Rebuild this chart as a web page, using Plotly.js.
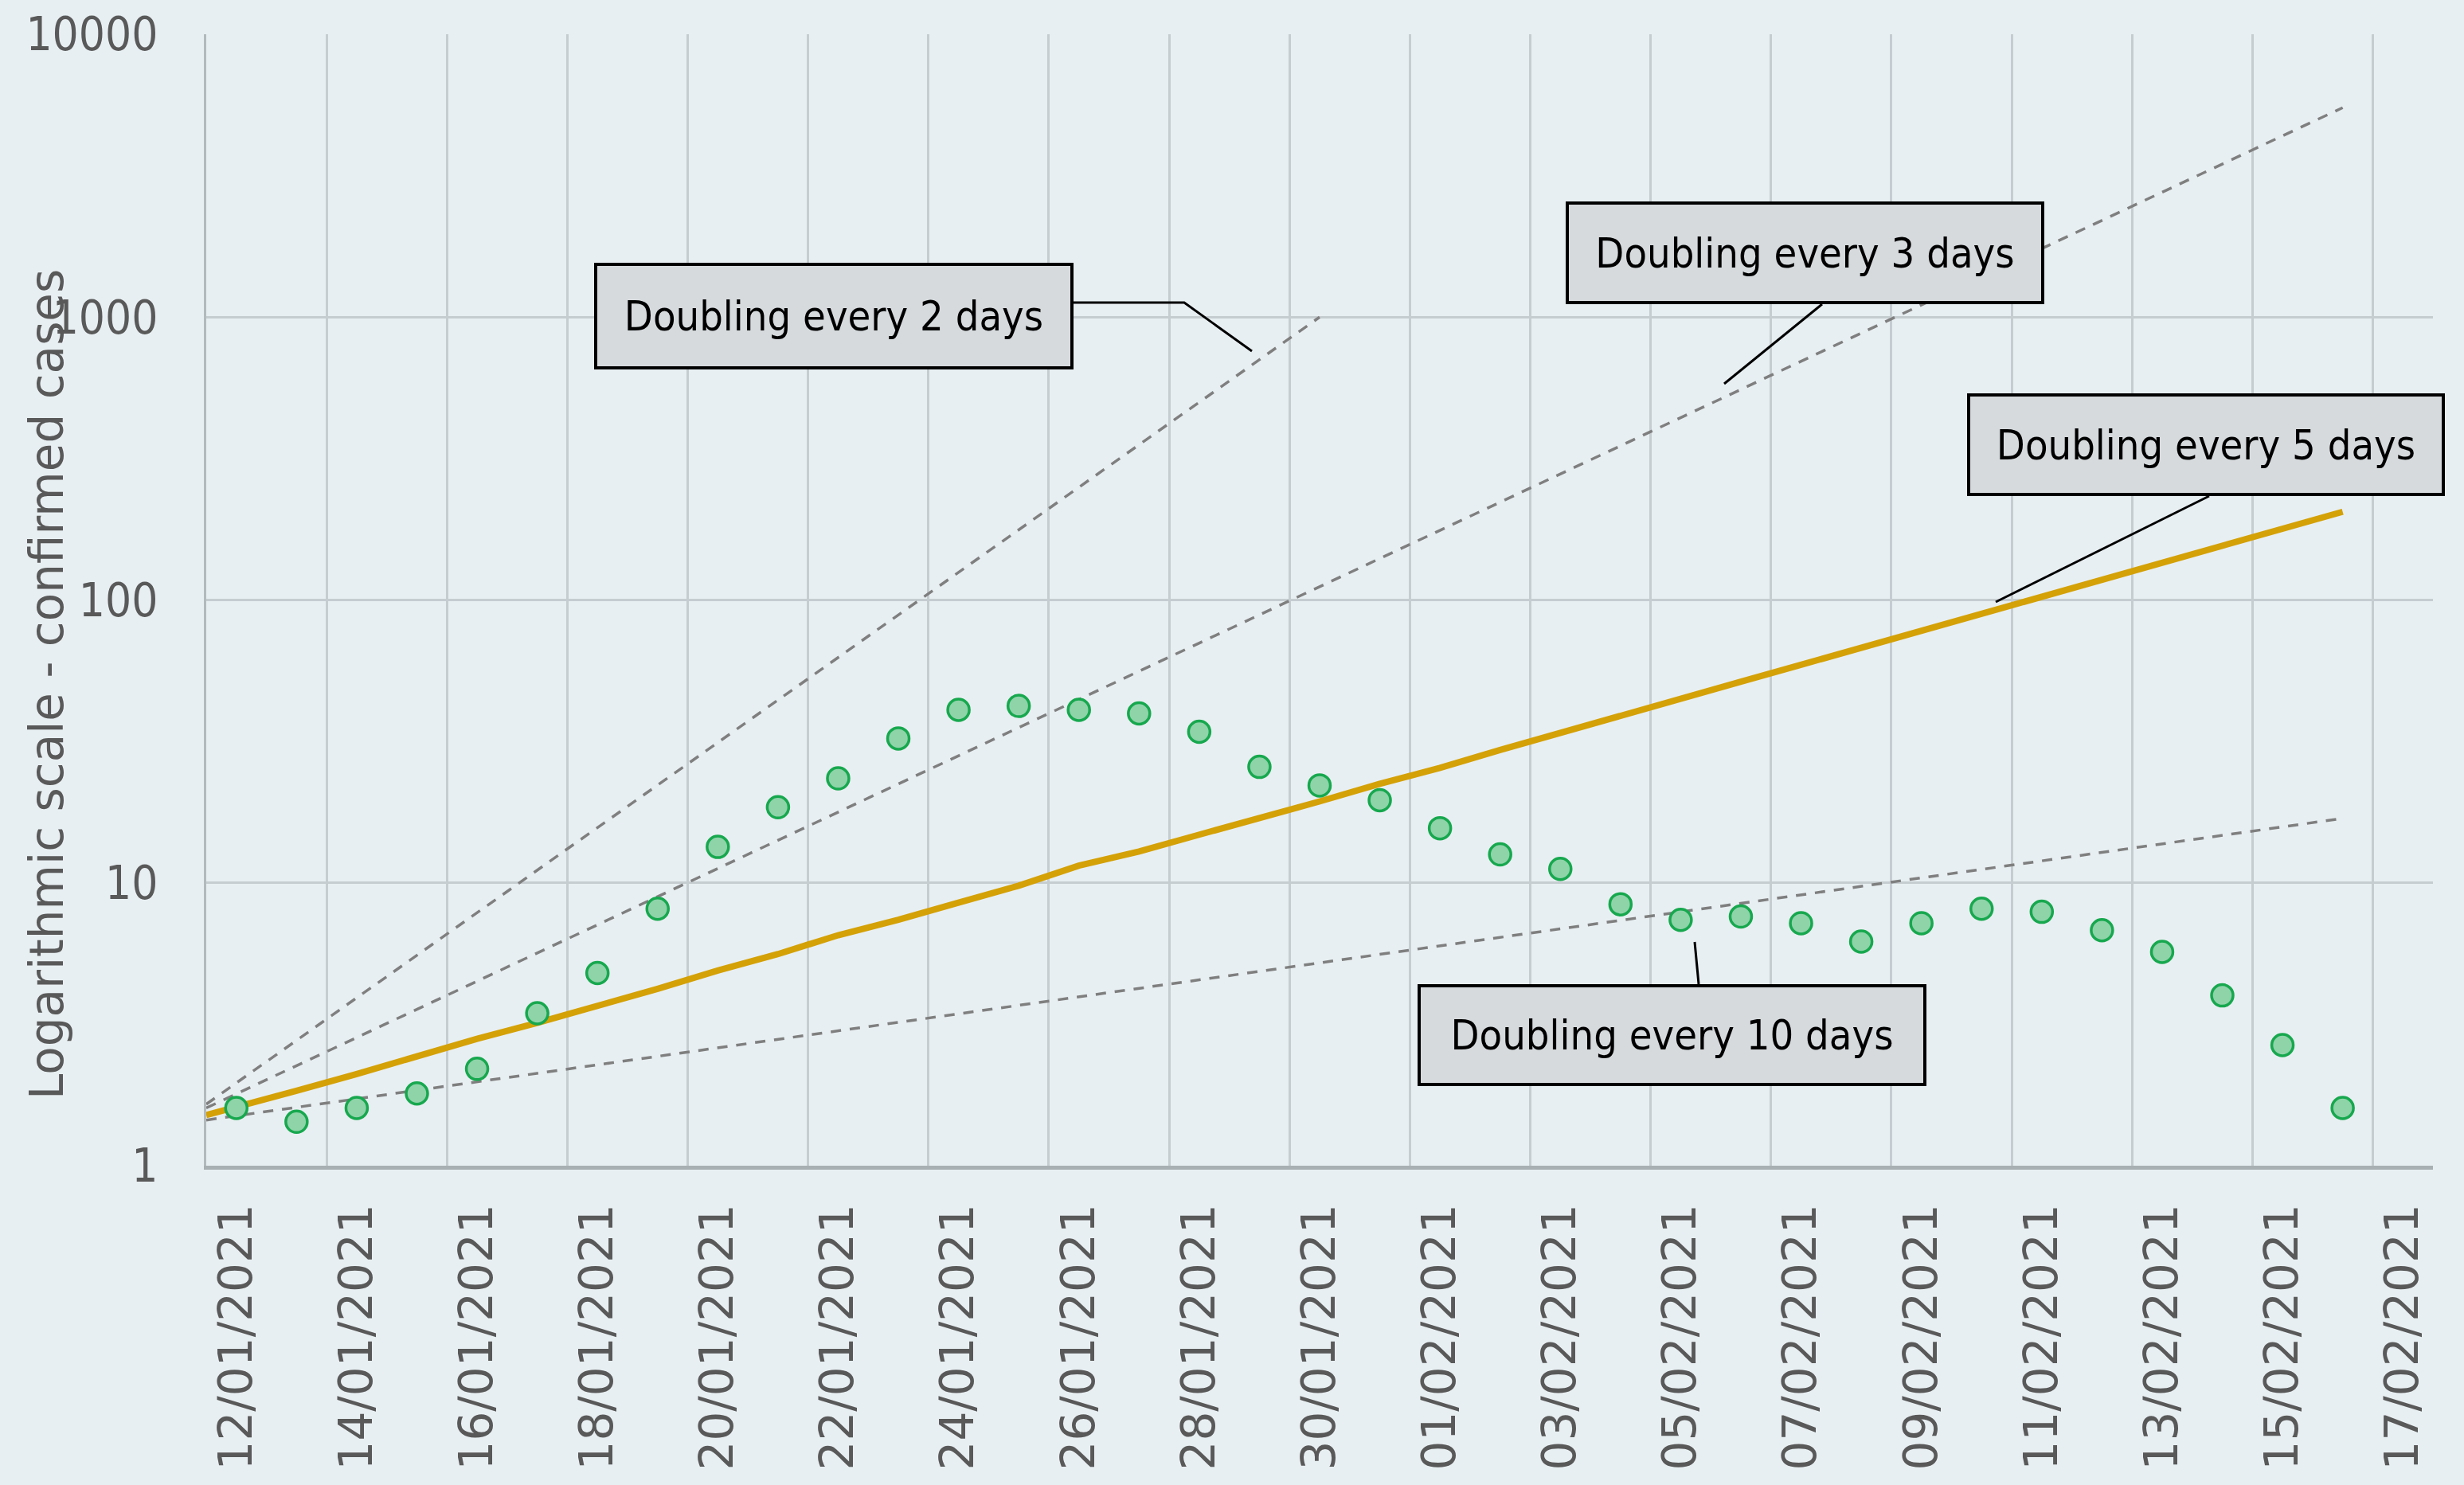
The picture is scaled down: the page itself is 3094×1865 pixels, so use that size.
<!DOCTYPE html>
<html>
<head>
<meta charset="utf-8">
<script src="https://cdn.plot.ly/plotly-3.0.1.min.js"></script>
<style>html,body{margin:0;padding:0;background:#E8EFF2;}</style>
</head>
<body>
<div id="chart" style="width:3094px;height:1865px;"></div>
<script>
// ---- data ----
const dates = ['2021-01-12','2021-01-13','2021-01-14','2021-01-15','2021-01-16','2021-01-17','2021-01-18','2021-01-19','2021-01-20','2021-01-21','2021-01-22','2021-01-23','2021-01-24','2021-01-25','2021-01-26','2021-01-27','2021-01-28','2021-01-29','2021-01-30','2021-01-31','2021-02-01','2021-02-02','2021-02-03','2021-02-04','2021-02-05','2021-02-06','2021-02-07','2021-02-08','2021-02-09','2021-02-10','2021-02-11','2021-02-12','2021-02-13','2021-02-14','2021-02-15','2021-02-16'];
const confirmedCases = [1.6,1.43,1.6,1.8,2.2,3.46,4.8,8.1,13.4,18.5,23.4,32.4,40.9,42.2,40.9,39.7,34.2,25.7,22.1,19.6,15.6,12.6,11.2,8.4,7.4,7.6,7.2,6.2,7.2,8.1,7.9,6.8,5.7,4.0,2.67,1.6];

const fiveDayDates = ['2021-01-11 12:00'].concat(dates);
const fiveDayValues = [1.51,1.62,1.84,2.11,2.45,2.81,3.2,3.67,4.22,4.9,5.6,6.53,7.4,8.51,9.77,11.5,12.9,14.8,16.9,19.4,22.4,25.5,29.5,34.0,39.0,44.8,51.4,59.0,67.8,78.0,89.5,103,118,136,156,179,205];

const twoDayDates = ['2021-01-11 12:00','2021-01-30'];
const twoDayValues = [1.65,1000];
const threeDayDates = ['2021-01-11 12:00','2021-02-16'];
const threeDayValues = [1.6,5500];
const tenDayDates = ['2021-01-11 12:00','2021-02-16'];
const tenDayValues = [1.45,16.9];

const xTickDates = ['2021-01-12','2021-01-14','2021-01-16','2021-01-18','2021-01-20','2021-01-22','2021-01-24','2021-01-26','2021-01-28','2021-01-30','2021-02-01','2021-02-03','2021-02-05','2021-02-07','2021-02-09','2021-02-11','2021-02-13','2021-02-15','2021-02-17'];
const yTickVals = [1,10,100,1000,10000];
const yTickText = ['1','10','100','1000','10000'];

const labels = ['Doubling every 2 days','Doubling every 3 days','Doubling every 5 days','Doubling every 10 days'];

// ---- geometry helpers (plot area in page pixels) ----
const PL = 259, PR = 3055, PT = 43, PB = 1464;
const px = v => (v - PL) / (PR - PL);
const py = v => (PB - v) / (PB - PT);

const dashStyle = {color:'#7F7F7F', width:3.5, dash:'13px,11px'};
const traces = [
  {x:twoDayDates, y:twoDayValues, mode:'lines', line:dashStyle, hoverinfo:'skip'},
  {x:threeDayDates, y:threeDayValues, mode:'lines', line:dashStyle, hoverinfo:'skip'},
  {x:tenDayDates, y:tenDayValues, mode:'lines', line:dashStyle, hoverinfo:'skip'},
  {x:fiveDayDates, y:fiveDayValues, mode:'lines', line:{color:'#D4A106', width:8}, hoverinfo:'skip'},
  {x:dates, y:confirmedCases, mode:'markers', marker:{symbol:'circle', size:27, color:'#8FD3A9', line:{color:'#17A84E', width:3.5}}, hoverinfo:'skip'}
];

const boxFont = {family:'DejaVu Sans Condensed, sans-serif', size:52, color:'#000000'};
function box(text, left, top, w, h){
  return {text:text, xref:'paper', yref:'paper', x:px(left), y:py(top), xanchor:'left', yanchor:'top',
    showarrow:false, width:w, height:h, align:'center', valign:'middle', bgcolor:'#D6DADD',
    bordercolor:'#000000', borderwidth:4, borderpad:0, font:boxFont};
}
function leader(pts){
  let d = 'M ' + pts.map(p => px(p[0]) + ' ' + py(p[1])).join(' L ');
  return {type:'path', xref:'paper', yref:'paper', path:d, line:{color:'#000000', width:3}};
}

const layout = {
  width:3094, height:1865,
  margin:{l:PL, r:3094-PR, t:PT, b:1865-PB, pad:0},
  paper_bgcolor:'#E8EFF2', plot_bgcolor:'#E8EFF2',
  showlegend:false, hovermode:false,
  xaxis:{
    type:'date', range:['2021-01-11 12:00','2021-02-17 12:00'],
    tickmode:'array', tickvals:xTickDates, tickformat:'%d/%m/%Y', tickangle:-90,
    ticks:'', ticklabelstandoff:20,
    tickfont:{family:'DejaVu Sans, sans-serif', size:58, color:'#595959'},
    showgrid:false, zeroline:false,
    minor:{tickmode:'linear', tick0:'2021-01-11 12:00', dtick:2*86400000, showgrid:true, gridcolor:'#C6CDD1', gridwidth:3, ticks:''},
    showline:true, linecolor:'#A9B0B4', linewidth:5
  },
  yaxis:{
    type:'log', range:[0,4], tickmode:'array', tickvals:yTickVals, ticktext:yTickText,
    ticks:'', ticklabelstandoff:46,
    tickfont:{family:'DejaVu Sans Condensed, sans-serif', size:58, color:'#595959'},
    showgrid:true, gridcolor:'#C6CDD1', gridwidth:3, zeroline:false,
    showline:true, linecolor:'#B3BABE', linewidth:3
  },
  annotations:[
    {text:'Logarithmic scale - confirmed cases', xref:'paper', yref:'paper', x:px(59), y:py(860),
     xanchor:'center', yanchor:'middle', textangle:-90, showarrow:false,
     font:{family:'DejaVu Sans, sans-serif', size:58, color:'#595959'}},
    box(labels[0], 746, 330, 594, 126),
    box(labels[1], 1966, 253, 593, 121),
    box(labels[2], 2470, 494, 592, 121),
    box(labels[3], 1780, 1236, 631, 120)
  ],
  shapes:[
    leader([[1348,380],[1487,380],[1572,441]]),
    leader([[2288,382],[2165,482]]),
    leader([[2774,623],[2506,756]]),
    leader([[2133,1236],[2128,1183]])
  ]
};

Plotly.newPlot('chart', traces, layout, {displayModeBar:false, staticPlot:true});
</script>
</body>
</html>
